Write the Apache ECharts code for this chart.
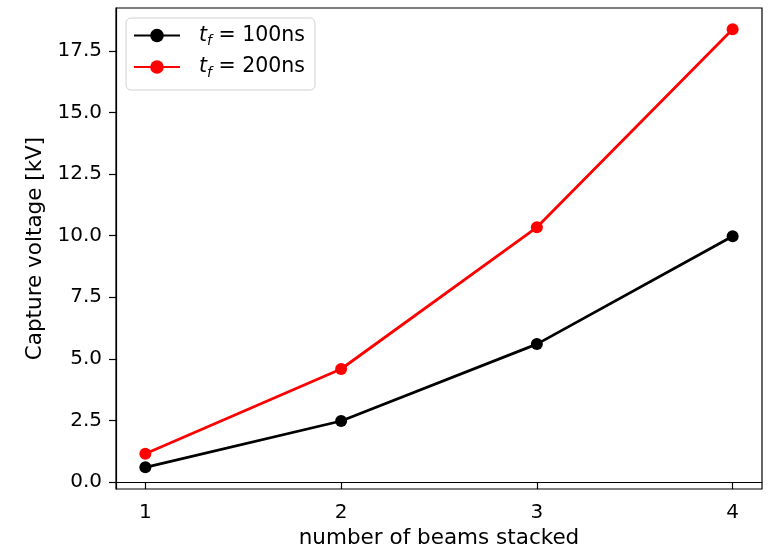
<!DOCTYPE html>
<html>
<head>
<meta charset="utf-8">
<script src="https://cdn.jsdelivr.net/npm/echarts@6/dist/echarts.min.js"></script>
<style>html,body{margin:0;padding:0;background:#fff;}#c{width:772px;height:548px;}</style>
</head>
<body>
<div id="c"></div>
<script>
const beams = [1, 2, 3, 4];
const v100 = [0.60, 2.48, 5.60, 9.98];
const v200 = [1.15, 4.59, 10.34, 18.38];
const xTicks = [1, 2, 3, 4];
const yTicks = [0, 2.5, 5, 7.5, 10, 12.5, 15, 17.5];
const seriesNames = ['100', '200'];

const chart = echarts.init(document.getElementById('c'), null, {renderer: 'canvas'});
const font = 'DejaVu Sans';
const fs = 20;
const fsName = 21.5;
const fsLeg = 20.5;
const pair = (xs, ys) => xs.map((x, i) => [x, ys[i]]);

chart.setOption({
  animation: false,
  backgroundColor: '#fff',
  grid: {left: 116, right: 10, top: 8, bottom: 59, containLabel: false, outerBoundsMode: 'none',
    show: true, borderColor: '#000', borderWidth: 1.2, backgroundColor: 'transparent'},
  xAxis: {
    type: 'value', min: 0.85, max: 4.15,
    name: 'number of beams stacked', nameLocation: 'middle', nameGap: 36,
    nameTextStyle: {fontFamily: font, fontSize: fsName, color: '#000'},
    axisLine: {show: true, lineStyle: {color: '#000', width: 1.2}},
    axisTick: {show: true, inside: false, length: 7, customValues: xTicks, lineStyle: {color: '#000', width: 1.2}},
    axisLabel: {customValues: xTicks, fontFamily: font, fontSize: fs, color: '#000', margin: 14},
    splitLine: {show: false}
  },
  yAxis: {
    type: 'value', min: -0.28, max: 19.24,
    name: 'Capture voltage [kV]', nameLocation: 'middle', nameGap: 70,
    nameTextStyle: {fontFamily: font, fontSize: fsName, color: '#000'},
    axisLine: {show: true, lineStyle: {color: '#000', width: 1.2}},
    axisTick: {show: true, inside: false, length: 7, customValues: yTicks, lineStyle: {color: '#000', width: 1.2}},
    axisLabel: {customValues: yTicks, fontFamily: font, fontSize: fs, color: '#000', margin: 14,
      formatter: v => v.toFixed(1)},
    splitLine: {show: false}
  },
  legend: {
    orient: 'vertical', left: 126, top: 18,
    padding: [7, 10, 10, 7],
    itemWidth: 46, itemHeight: 17, itemGap: 8,
    backgroundColor: '#fff', borderColor: '#d0d0d0', borderWidth: 1, borderRadius: 5,
    data: seriesNames,
    formatter: n => '{t|t}{f|f}{e| = ' + n + 'ns}',
    textStyle: {
      fontFamily: font, fontSize: fsLeg, color: '#000', padding: [0, 0, 0, 14],
      rich: {
        t: {fontFamily: font, fontSize: fsLeg, fontStyle: 'italic', color: '#000', verticalAlign: 'middle', lineHeight: 26},
        f: {fontFamily: font, fontSize: 14, fontStyle: 'italic', color: '#000', verticalAlign: 'bottom', lineHeight: 26, padding: [8, 0, 0, 0]},
        e: {fontFamily: font, fontSize: fsLeg, color: '#000', verticalAlign: 'middle', lineHeight: 26}
      }
    }
  },
  series: [
    {name: seriesNames[0], type: 'line', data: pair(beams, v100), symbol: 'circle', symbolSize: 12,
     itemStyle: {color: '#000'}, lineStyle: {color: '#000', width: 2.8}},
    {name: seriesNames[1], type: 'line', data: pair(beams, v200), symbol: 'circle', symbolSize: 12,
     itemStyle: {color: '#ff0000'}, lineStyle: {color: '#ff0000', width: 2.8}}
  ]
});
</script>
</body>
</html>
